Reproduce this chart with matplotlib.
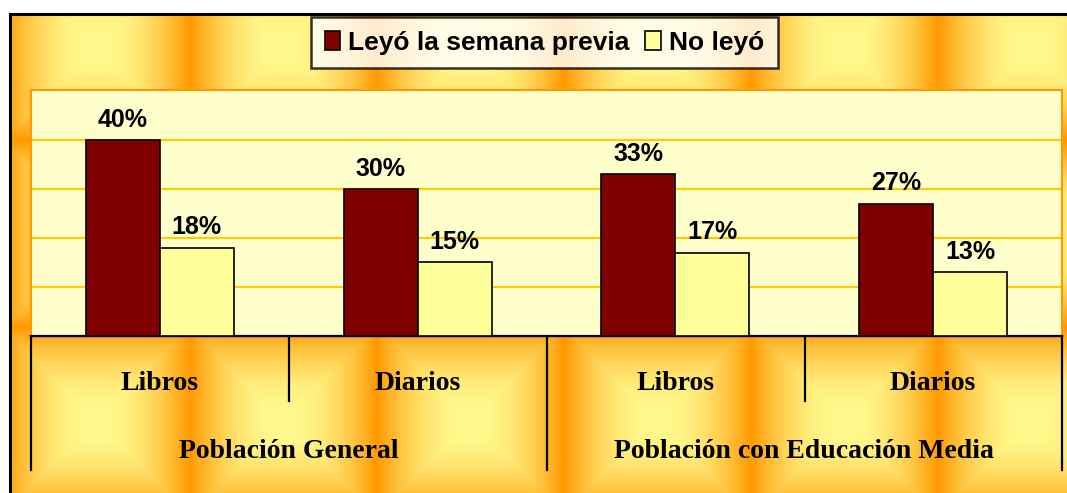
import numpy as np
import matplotlib
matplotlib.use("Agg")
from matplotlib import pyplot as plt

# data
subcats = ['Libros', 'Diarios', 'Libros', 'Diarios']
groups = ['Población General', 'Población con Educación Media']
leyo = [40, 30, 33, 27]
no_leyo = [18, 15, 17, 13]
series_names = ['Leyó la semana previa', 'No leyó']

W, H = 1067, 493
fig = plt.figure(figsize=(W / 100, H / 100), dpi=100)
fig.patch.set_facecolor('white')

# background axes in pixel coordinates
bg = fig.add_axes([0, 0, 1, 1], zorder=0)
bg.set_xlim(0, W)
bg.set_ylim(H, 0)
bg.axis('off')

# tiled "from centre" gradient like the Excel fill
xs = np.arange(10, W) + 0.5
ys = np.arange(15, H) + 0.5
X, Y = np.meshgrid(xs, ys)
tile = 187.0
dx = np.abs(((X - 3) % tile) / tile - 0.5) * 2
dy = np.abs(((Y + 47) % tile) / tile - 0.5) * 2
t = np.maximum(dx, dy) ** 2.0
yellow = np.array([1.0, 0.98, 0.56])
orange = np.array([1.0, 0.60, 0.0])
img = yellow[None, None, :] * (1 - t[..., None]) + orange[None, None, :] * t[..., None]
bg.imshow(img, extent=[10, W, H, 15], aspect='auto', interpolation='bilinear')
bg.plot([9.5, 9.5], [14, H], color='black', lw=2.2)
bg.plot([9.5, W], [14, 14], color='black', lw=2.2)

# category boxes under the plot
lw_box = 1.6
bg.plot([31, 1062], [336, 336], color='black', lw=lw_box, zorder=3)
for xv in [31, 547, 1062]:
    bg.plot([xv, xv], [336, 470], color='black', lw=lw_box, zorder=3)
for xv in [289, 805]:
    bg.plot([xv, xv], [336, 401], color='black', lw=lw_box, zorder=3)

serif = dict(family='Liberation Serif', fontweight='bold', fontsize=20, color='black')
cat_w = (1062 - 31) / 4
for i, name in enumerate(subcats):
    bg.text(31 + cat_w * (i + 0.5), 384, name, ha='center', va='center', **serif)
for j, name in enumerate(groups):
    bg.text(31 + cat_w * (2 * j + 1), 451, name, ha='center', va='center', **serif)

# main plot
ax = fig.add_axes([31 / W, (H - 336) / H, (1062 - 31) / W, (336 - 90) / H], zorder=2)
ax.set_facecolor('#FFFFCC')
x = np.arange(len(subcats))
bw = 0.287
b1 = ax.bar(x - bw / 2, leyo, bw, color='#800000', edgecolor='black', linewidth=1.2,
            label=series_names[0], zorder=3)
b2 = ax.bar(x + bw / 2, no_leyo, bw, color='#FFFF99', edgecolor='black', linewidth=1.2,
            label=series_names[1], zorder=3)
ax.set_xlim(-0.5, 3.5)
ax.set_ylim(0, 50.2)
for yv in [10, 20, 30, 40]:
    ax.axhline(yv, color='#FFCC00', lw=1.6, zorder=1)
for bars in (b1, b2):
    for r in bars:
        ax.annotate(f'{r.get_height():.0f}%', (r.get_x() + r.get_width() / 2, r.get_height()),
                    xytext=(0, 6), textcoords='offset points', ha='center', va='bottom',
                    family='Liberation Sans', fontweight='bold', fontsize=18)
ax.set_xticks([])
ax.set_yticks([])
for s in ['top', 'left', 'right']:
    ax.spines[s].set_color('#FF9900')
    ax.spines[s].set_linewidth(1.5)
ax.spines['bottom'].set_color('black')
ax.spines['bottom'].set_linewidth(lw_box)

leg = fig.legend(handles=[b1, b2], loc='center', bbox_to_anchor=(544.5 / W, 1 - 42.5 / H),
                 ncol=2, frameon=True, fancybox=False, handlelength=0.6, handleheight=0.7,
                 handletextpad=0.3, columnspacing=0.6, borderpad=0.5,
                 prop=dict(family='Liberation Sans', weight='bold', size=19))
leg.get_frame().set_edgecolor('black')
leg.get_frame().set_linewidth(1.8)
leg.set_zorder(5)

fig.savefig('out.png', dpi=100)
